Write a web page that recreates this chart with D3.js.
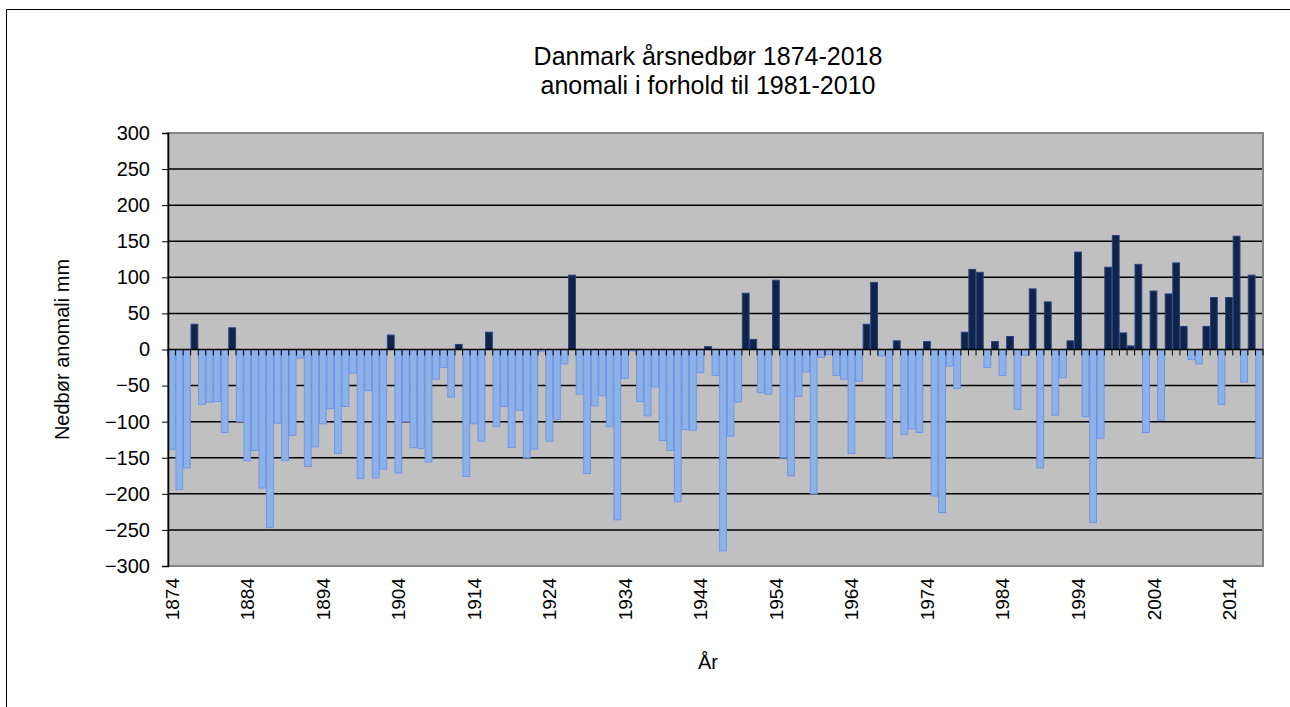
<!DOCTYPE html>
<html>
<head>
<meta charset="utf-8">
<script src="https://cdn.jsdelivr.net/npm/d3@7"></script>
<style>
  html, body { margin: 0; background: #fff; overflow: hidden; }
  svg { display: block; overflow: hidden; font-family: "Liberation Sans", Arial, sans-serif; }
</style>
</head>
<body>
<svg id="chart" width="1290" height="707"></svg>
<script>
// year categories 1874..2018
const FIRST_YEAR = 1874;
const LAST_YEAR = 2018;
const years = d3.range(FIRST_YEAR, LAST_YEAR + 1);

// anomaly (mm) vs 1981-2010
const anomaly = [
  -138, -194, -164, 35, -76, -73, -72, -115, 30, -100,
  -154, -140, -192, -247, -102, -154, -119, -12, -162, -135,
  -103, -82, -144, -79, -33, -179, -57, -178, -166, 20,
  -171, -100, -136, -137, -156, -41, -25, -66, 7, -176,
  -103, -127, 24, -107, -79, -136, -84, -150, -138, -3,
  -127, -97, -20, 103, -62, -172, -78, -64, -107, -236,
  -40, -2, -72, -92, -52, -126, -140, -211, -111, -112,
  -32, 4, -36, -279, -120, -73, 78, 14, -60, -62,
  96, -150, -175, -65, -31, -200, -11, -7, -36, -41,
  -144, -44, 35, 93, -9, -150, 12, -118, -110, -115,
  11, -203, -226, -23, -54, 24, 111, 107, -25, 11,
  -36, 18, -83, -8, 84, -164, 66, -91, -39, 12,
  135, -93, -240, -123, 114, 158, 23, 5, 118, -115,
  81, -98, 77, 120, 32, -14, -20, 32, 72, -76,
  72, 157, -45, 103, -150
];

const yTicks = [-300, -250, -200, -150, -100, -50, 0, 50, 100, 150, 200, 250, 300];
const xTickYears = [1874, 1884, 1894, 1904, 1914, 1924, 1934, 1944, 1954, 1964, 1974, 1984, 1994, 2004, 2014];

const titleLines = ["Danmark årsnedbør 1874-2018", "anomali i forhold til 1981-2010"];

const plot = { left: 168, right: 1263, top: 133, bottom: 566 };

const data = years.map((yr, i) => ({ year: yr, value: anomaly[i] }));

var svg = d3.select("#chart");

// outer chart frame (only left/top edges fall inside the picture)
svg.append("line")
  .attr("x1", 6.5).attr("x2", 1290)
  .attr("y1", 9.5).attr("y2", 9.5)
  .attr("stroke", "#000").attr("stroke-width", 1);
svg.append("line")
  .attr("x1", 6.5).attr("x2", 6.5)
  .attr("y1", 9.5).attr("y2", 707)
  .attr("stroke", "#000").attr("stroke-width", 1);

var x = d3.scaleBand()
  .domain(years)
  .range([plot.left, plot.right])
  .paddingInner(0.1)
  .paddingOuter(0.05);

var y = d3.scaleLinear()
  .domain([-300, 300])
  .range([plot.bottom, plot.top]);

// plot background
svg.append("rect")
  .attr("x", plot.left).attr("y", plot.top)
  .attr("width", plot.right - plot.left)
  .attr("height", plot.bottom - plot.top)
  .attr("fill", "#c0c0c0");

// gridlines
svg.append("g")
  .selectAll("line")
  .data(yTicks.filter(d => d !== 0 && Math.abs(d) !== 300))
  .enter()
  .append("line")
  .attr("x1", plot.left).attr("x2", plot.right)
  .attr("y1", d => y(d)).attr("y2", d => y(d))
  .attr("stroke", "#000").attr("stroke-width", 1.5);

// bars
svg.append("g")
  .selectAll("rect")
  .data(data)
  .enter()
  .append("rect")
  .attr("x", d => x(d.year))
  .attr("width", x.bandwidth())
  .attr("y", d => y(Math.max(0, d.value)))
  .attr("height", d => Math.abs(y(d.value) - y(0)))
  .attr("fill", d => d.value >= 0 ? "#0f2547" : "#8db3e6")
  .attr("stroke", d => d.value >= 0 ? "#2a3f8a" : "#7094ee")
  .attr("stroke-width", 1);

// plot border
svg.append("rect")
  .attr("x", plot.left).attr("y", plot.top)
  .attr("width", plot.right - plot.left)
  .attr("height", plot.bottom - plot.top)
  .attr("fill", "none")
  .attr("stroke", "#858585").attr("stroke-width", 2);

// zero axis line with category ticks between bars
var step = x.step();
var boundaries = years.map(yr => x(yr) - step * x.paddingInner() / 2).concat([plot.right]);
var xAxis = svg.append("g");
xAxis.append("line")
  .attr("x1", plot.left).attr("x2", plot.right)
  .attr("y1", y(0)).attr("y2", y(0))
  .attr("stroke", "#000").attr("stroke-width", 1.5);
xAxis.selectAll("line.tick")
  .data(boundaries)
  .enter()
  .append("line")
  .attr("class", "tick")
  .attr("x1", d => d).attr("x2", d => d)
  .attr("y1", y(0)).attr("y2", y(0) + 6)
  .attr("stroke", "#000").attr("stroke-width", 1);

// x tick labels (rotated)
svg.append("g")
  .selectAll("text")
  .data(xTickYears)
  .enter()
  .append("text")
  .attr("transform", d => `translate(${x(d) + x.bandwidth() / 2 + 7}, ${plot.bottom + 12}) rotate(-90)`)
  .attr("text-anchor", "end")
  .attr("font-size", 19)
  .attr("fill", "#000")
  .text(d => d);

// y axis
var yAxis = svg.append("g")
  .attr("transform", `translate(${plot.left}, 0)`)
  .call(d3.axisLeft(y).tickValues(yTicks).tickSize(6).tickPadding(12).tickFormat(d3.format("d")));
yAxis.select(".domain").attr("stroke", "#000").attr("stroke-width", 1.5);
yAxis.selectAll(".tick line").attr("stroke", "#000");
yAxis.selectAll(".tick text")
  .attr("font-size", 20)
  .attr("font-family", "'Liberation Sans', Arial, sans-serif")
  .attr("fill", "#000");

// title
svg.append("g")
  .selectAll("text")
  .data(titleLines)
  .enter()
  .append("text")
  .attr("x", 708)
  .attr("y", (d, i) => 65 + i * 29)
  .attr("text-anchor", "middle")
  .attr("font-size", 25)
  .attr("fill", "#000")
  .text(d => d);

// axis titles
svg.append("text")
  .attr("transform", `translate(69, ${(plot.top + plot.bottom) / 2}) rotate(-90)`)
  .attr("text-anchor", "middle")
  .attr("font-size", 20)
  .text("Nedbør anomali mm");

svg.append("text")
  .attr("x", 708)
  .attr("y", 669)
  .attr("text-anchor", "middle")
  .attr("font-size", 20)
  .text("År");
</script>
</body>
</html>
